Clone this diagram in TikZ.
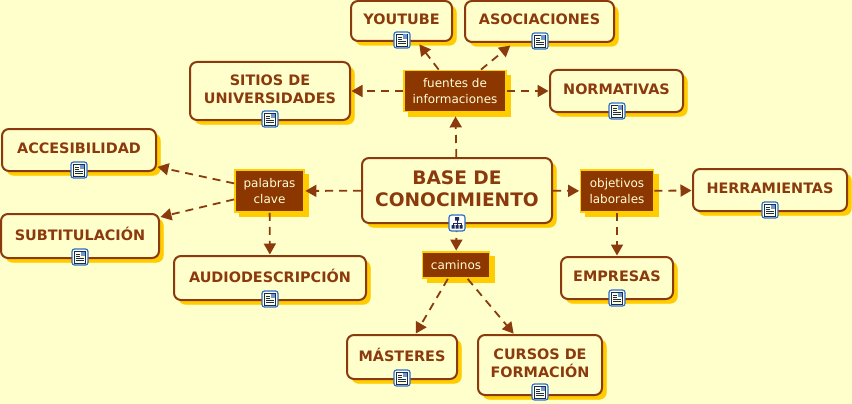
\documentclass[tikz,border=0pt]{standalone}
\usepackage{fontspec}
\setmainfont{DejaVu Sans}
\usetikzlibrary{arrows.meta,shadows}
\definecolor{bg}{HTML}{FFFFCC}
\definecolor{brn}{HTML}{8B3A0E}
\definecolor{fillb}{HTML}{8C3600}
\definecolor{yel}{HTML}{FFCC00}
\definecolor{iblue}{HTML}{2F6FC0}
\definecolor{inavy}{HTML}{1A2A5A}
\definecolor{ilight}{HTML}{FFFFD8}
\tikzset{
  x=1pt,y=-1pt,
  concept/.style={draw=brn,line width=2pt,fill=bg,rounded corners=7pt,inner sep=0pt,
    text=brn,align=center,text depth=4pt,font=\fontsize{14.4}{17.5}\selectfont\bfseries,
    copy shadow={shadow xshift=4.5pt,shadow yshift=-4.5pt,draw=yel,fill=yel,line width=0.1pt}},
  mainconcept/.style={concept,text depth=3pt,font=\fontsize{18.6}{22}\selectfont\bfseries},
  phrase/.style={draw=yel,line width=1.8pt,fill=fillb,inner sep=0pt,text=ilight,align=center,
    font=\fontsize{12}{15.5}\selectfont,
    copy shadow={shadow xshift=4.5pt,shadow yshift=-4.5pt,draw=yel,fill=yel,line width=0.1pt}},
  link/.style={draw=brn,line width=1.8pt,dash pattern=on 8pt off 6pt,
    -{Triangle[length=11pt,width=12pt,fill=brn]},shorten >=0.5pt,shorten <=0pt},
  iconbox/.style={draw=iblue,line width=1.2pt,fill=white,rounded corners=2.5pt,minimum width=16pt,minimum height=16pt,inner sep=0pt},
}
\newcommand{\docicon}[3]{%
  \node[iconbox] (#1) at (#2,#3) {};
  \draw[inavy,line width=0.8pt,fill=ilight] (#2-5.5,#3-6) rectangle (#2+5.5,#3+6);
  \fill[iblue!70!white] (#2+0.5,#3-5.5) rectangle (#2+5,#3-1);
  \draw[inavy,line width=0.9pt] (#2-4,#3-3)--(#2,#3-3) (#2-4,#3-0.7)--(#2,#3-0.7) (#2-4,#3+1.5)--(#2+4,#3+1.5) (#2-4,#3+3.7)--(#2+4,#3+3.7);
}
\newcommand{\treeicon}[3]{%
  \node[iconbox] (#1) at (#2,#3) {};
  \draw[inavy,line width=0.8pt] (#2,#3-3)--(#2,#3+3) (#2-4,#3+3)--(#2-4,#3)--(#2+4,#3)--(#2+4,#3+3);
  \fill[inavy] (#2-2,#3-6) rectangle (#2+2,#3-2.5) (#2-5.5,#3+2) rectangle (#2-2.5,#3+5.5) (#2-1.5,#3+2) rectangle (#2+1.5,#3+5.5) (#2+2.5,#3+2) rectangle (#2+5.5,#3+5.5);
}
\begin{document}
\begin{tikzpicture}
\fill[bg] (0,0) rectangle (852,404);
\useasboundingbox (0,0) rectangle (852,404);
% concepts
\node[concept,minimum width=101pt,minimum height=40pt] (youtube) at (401.5,21) {YOUTUBE};
\node[concept,minimum width=149pt,minimum height=41pt] (asoc) at (539.5,21.5) {ASOCIACIONES};
\node[concept,minimum width=160pt,minimum height=58pt] (sitios) at (270,91) {SITIOS DE\\UNIVERSIDADES};
\node[concept,minimum width=133pt,minimum height=42pt] (norm) at (616.5,91) {NORMATIVAS};
\node[mainconcept,minimum width=190pt,minimum height=65pt] (base) at (457,190.5) {BASE DE\\CONOCIMIENTO};
\node[concept,minimum width=154pt,minimum height=42pt] (acces) at (79,150) {ACCESIBILIDAD};
\node[concept,minimum width=158pt,minimum height=44pt] (subt) at (80,236) {SUBTITULACIÓN};
\node[concept,minimum width=192pt,minimum height=44pt] (audio) at (270,278) {AUDIODESCRIPCIÓN};
\node[concept,minimum width=154pt,minimum height=42pt] (herr) at (770,190) {HERRAMIENTAS};
\node[concept,minimum width=112pt,minimum height=42pt] (empresas) at (617,278) {EMPRESAS};
\node[concept,minimum width=110pt,minimum height=44pt] (masteres) at (402,357) {MÁSTERES};
\node[concept,minimum width=124pt,minimum height=60pt] (cursos) at (540,365) {CURSOS DE\\FORMACIÓN};
% linking phrases
\node[phrase,minimum width=102pt,minimum height=41pt] (fuentes) at (455,91) {fuentes de\\informaciones};
\node[phrase,minimum width=69pt,minimum height=42pt] (palabras) at (269.5,191) {palabras\\clave};
\node[phrase,minimum width=73pt,minimum height=42pt] (objetivos) at (617,191) {objetivos\\laborales};
\node[phrase,minimum width=67pt,minimum height=26pt] (caminos) at (456,265) {caminos};
% connectors
\draw[link,shorten >=4pt] (base) -- (fuentes);
\draw[link,shorten >=3pt] (fuentes) -- (youtube);
\draw[link,shorten >=4pt] (fuentes) -- (asoc);
\draw[link] (fuentes) -- (sitios);
\draw[link] (fuentes) -- (norm);
\draw[link] (base) -- (palabras);
\draw[link] (palabras) -- (acces);
\draw[link] (palabras) -- (subt);
\draw[link] (palabras) -- (audio);
\draw[link] (base) -- (objetivos);
\draw[link] (objetivos) -- (herr);
\draw[link] (objetivos) -- (empresas);
\draw[link] (base) -- (caminos);
\draw[link] (caminos) -- (masteres);
\draw[link] (caminos) -- (cursos);
% icons
\docicon{i1}{402}{40}
\docicon{i2}{540}{41}
\docicon{i3}{270}{119}
\docicon{i4}{617}{111}
\treeicon{i5}{457}{223}
\docicon{i6}{79}{170}
\docicon{i7}{80}{257}
\docicon{i8}{270}{299}
\docicon{i9}{770}{210}
\docicon{i10}{617}{298}
\docicon{i11}{402}{378}
\docicon{i12}{540}{392}
\end{tikzpicture}
\end{document}
